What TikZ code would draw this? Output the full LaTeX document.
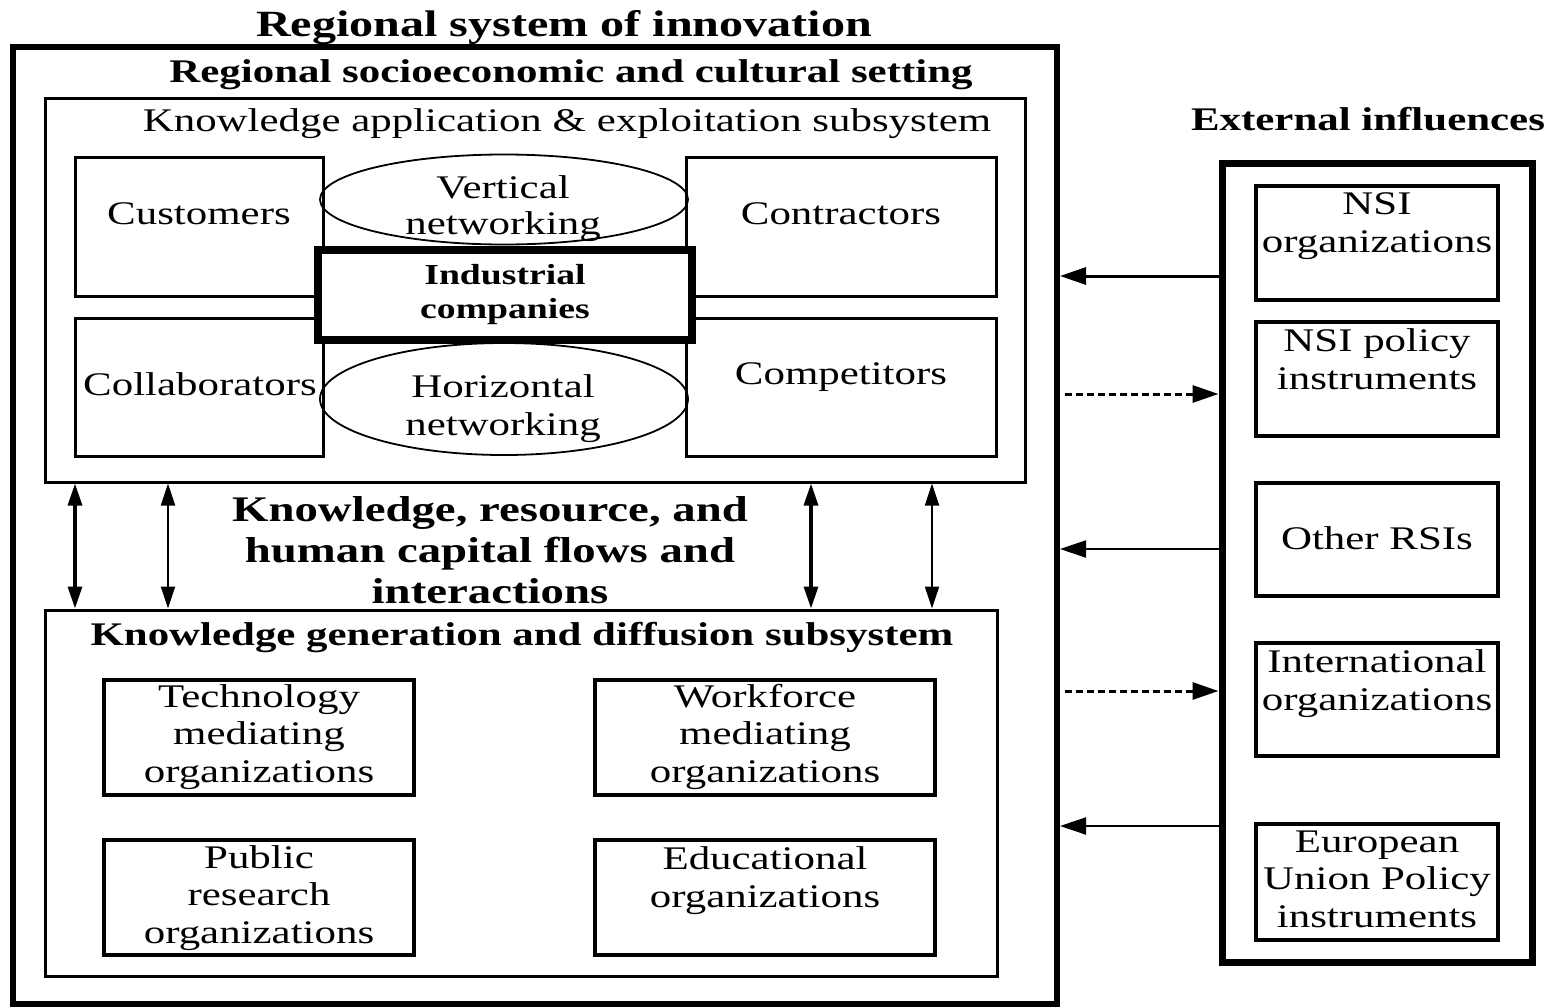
\documentclass[tikz,border=0pt]{standalone}
\usepackage{fontspec}
\setmainfont{Liberation Serif}[FakeStretch=1.3]
\usetikzlibrary{arrows.meta,shapes.geometric}
\newcommand\myreg{\fontsize{33}{37.5}\selectfont}
\newcommand\mybold{\bfseries\fontsize{33}{37.5}\selectfont}
\begin{document}
\begin{tikzpicture}[x=1pt,y=-1pt,
  rbox/.style={draw, line width=#1, inner sep=0pt},
  oval/.style={draw, ellipse, line width=1.8pt, inner sep=0pt},
  txt/.style={inner sep=0pt, outer sep=0pt, align=center, anchor=base, font=\myreg},
  btxt/.style={txt, font=\mybold},
  bi/.style={{Triangle[length=22pt,width=14pt]}-{Triangle[length=22pt,width=14pt]}},
  lefttip/.style={-{Triangle[length=26pt,width=17pt]}},
  dsh/.style={dash pattern=on 7pt off 4pt, line width=3pt, -{Triangle[length=26pt,width=17pt]}}
]
\useasboundingbox (0,0) rectangle (1556,1007);

% main frames
\node[rbox=6pt, minimum width=1044pt, minimum height=957pt] (outer) at (535,525.5) {};
\node[btxt, font=\bfseries\fontsize{37}{40}\selectfont] (title) at (564,36) {Regional system of innovation};
\node[btxt] (setting) at (571,82) {Regional socioeconomic and cultural setting};

\node[rbox=3pt, minimum width=980pt, minimum height=384pt] (app) at (535,290) {};
\node[txt] (apptitle) at (567,131) {Knowledge application \& exploitation subsystem};

\node[rbox=3pt, minimum width=248pt, minimum height=139pt] (cust) at (199,226.5) {};
\node[rbox=3pt, minimum width=310pt, minimum height=139pt] (contr) at (841,226.5) {};
\node[rbox=3pt, minimum width=248pt, minimum height=138pt] (collab) at (199,387) {};
\node[rbox=3pt, minimum width=310pt, minimum height=138pt] (comp) at (841,387) {};
\node[oval, minimum width=368pt, minimum height=90pt] (vert) at (504,199.5) {};
\node[oval, minimum width=368pt, minimum height=112pt] (horiz) at (504,399) {};
\node[rbox=8pt, fill=white, minimum width=374pt, minimum height=90pt] (ind) at (505,294.5) {};

\node[txt] (custt) at (199,224) {Customers};
\node[txt] (contrt) at (841,224) {Contractors};
\node[txt] (collabt) at (200,395) {Collaborators};
\node[txt] (compt) at (841,384) {Competitors};
\node[txt, font=\fontsize{33}{36}\selectfont] (vertt) at (503,234) {Vertical\\networking};
\node[txt, font=\fontsize{33}{38}\selectfont] (horizt) at (503,435) {Horizontal\\networking};
\node[btxt, font=\bfseries\fontsize{29}{34}\selectfont] (indt) at (505,318) {Industrial\\companies};

% flows
\node[btxt, font=\bfseries\fontsize{36}{41}\selectfont] (flows) at (490,603) {Knowledge, resource, and\\human capital flows and\\interactions};

\node[rbox=3pt, minimum width=952pt, minimum height=366pt] (gen) at (521,793) {};
\node[btxt] (gentitle) at (522,645) {Knowledge generation and diffusion subsystem};

\node[rbox=3.5pt, minimum width=310pt, minimum height=115pt] (tech) at (259,737.5) {};
\node[rbox=3.5pt, minimum width=340pt, minimum height=115pt] (work) at (765,737.5) {};
\node[rbox=3.5pt, minimum width=310pt, minimum height=115pt] (pub) at (259,897.5) {};
\node[rbox=3.5pt, minimum width=340pt, minimum height=115pt] (edu) at (765,897.5) {};
\node[txt] (techt) at (259,782) {Technology\\mediating\\organizations};
\node[txt] (workt) at (765,782) {Workforce\\mediating\\organizations};
\node[txt] (pubt) at (259,943) {Public\\research\\organizations};
\node[txt] (edut) at (765,907) {Educational\\organizations};

\coordinate (a1) at (75,0);
\coordinate (a2) at (168,0);
\coordinate (a3) at (811,0);
\coordinate (a4) at (932,0);
\draw[bi, line width=3.2pt] (a1 |- app.south) -- (a1 |- gen.north);
\draw[bi, line width=1.8pt] (a2 |- app.south) -- (a2 |- gen.north);
\draw[bi, line width=3.2pt] (a3 |- app.south) -- (a3 |- gen.north);
\draw[bi, line width=1.8pt] (a4 |- app.south) -- (a4 |- gen.north);

% external influences
\node[btxt] (exttitle) at (1368,130) {External influences};
\node[rbox=7pt, minimum width=310pt, minimum height=799pt] (ext) at (1377,562.5) {};
\node[rbox=3.5pt, minimum width=242pt, minimum height=114pt] (nsio) at (1377,243) {};
\node[rbox=3.5pt, minimum width=242pt, minimum height=114pt] (nsip) at (1377,379) {};
\node[rbox=3.5pt, minimum width=242pt, minimum height=113pt] (rsi) at (1377,539.5) {};
\node[rbox=3.5pt, minimum width=242pt, minimum height=113pt] (intl) at (1377,699.5) {};
\node[rbox=3.5pt, minimum width=242pt, minimum height=116pt] (eu) at (1377,882) {};
\node[txt] (nsiot) at (1377,252) {NSI\\organizations};
\node[txt] (nsipt) at (1377,389) {NSI policy\\instruments};
\node[txt] (rsit) at (1377,549) {Other RSIs};
\node[txt] (intlt) at (1377,710) {International\\organizations};
\node[txt] (eut) at (1377,927) {European\\Union Policy\\instruments};

\coordinate (r1) at (0,276);
\coordinate (r2) at (0,394);
\coordinate (r3) at (0,549);
\coordinate (r4) at (0,691);
\coordinate (r5) at (0,826);
\draw[lefttip, line width=3pt] (ext.west |- r1) -- (outer.east |- r1);
\draw[dsh] ([xshift=5pt]outer.east |- r2) -- (ext.west |- r2);
\draw[lefttip, line width=2pt] (ext.west |- r3) -- (outer.east |- r3);
\draw[dsh] ([xshift=5pt]outer.east |- r4) -- (ext.west |- r4);
\draw[lefttip, line width=2pt] (ext.west |- r5) -- (outer.east |- r5);
\end{tikzpicture}
\end{document}
